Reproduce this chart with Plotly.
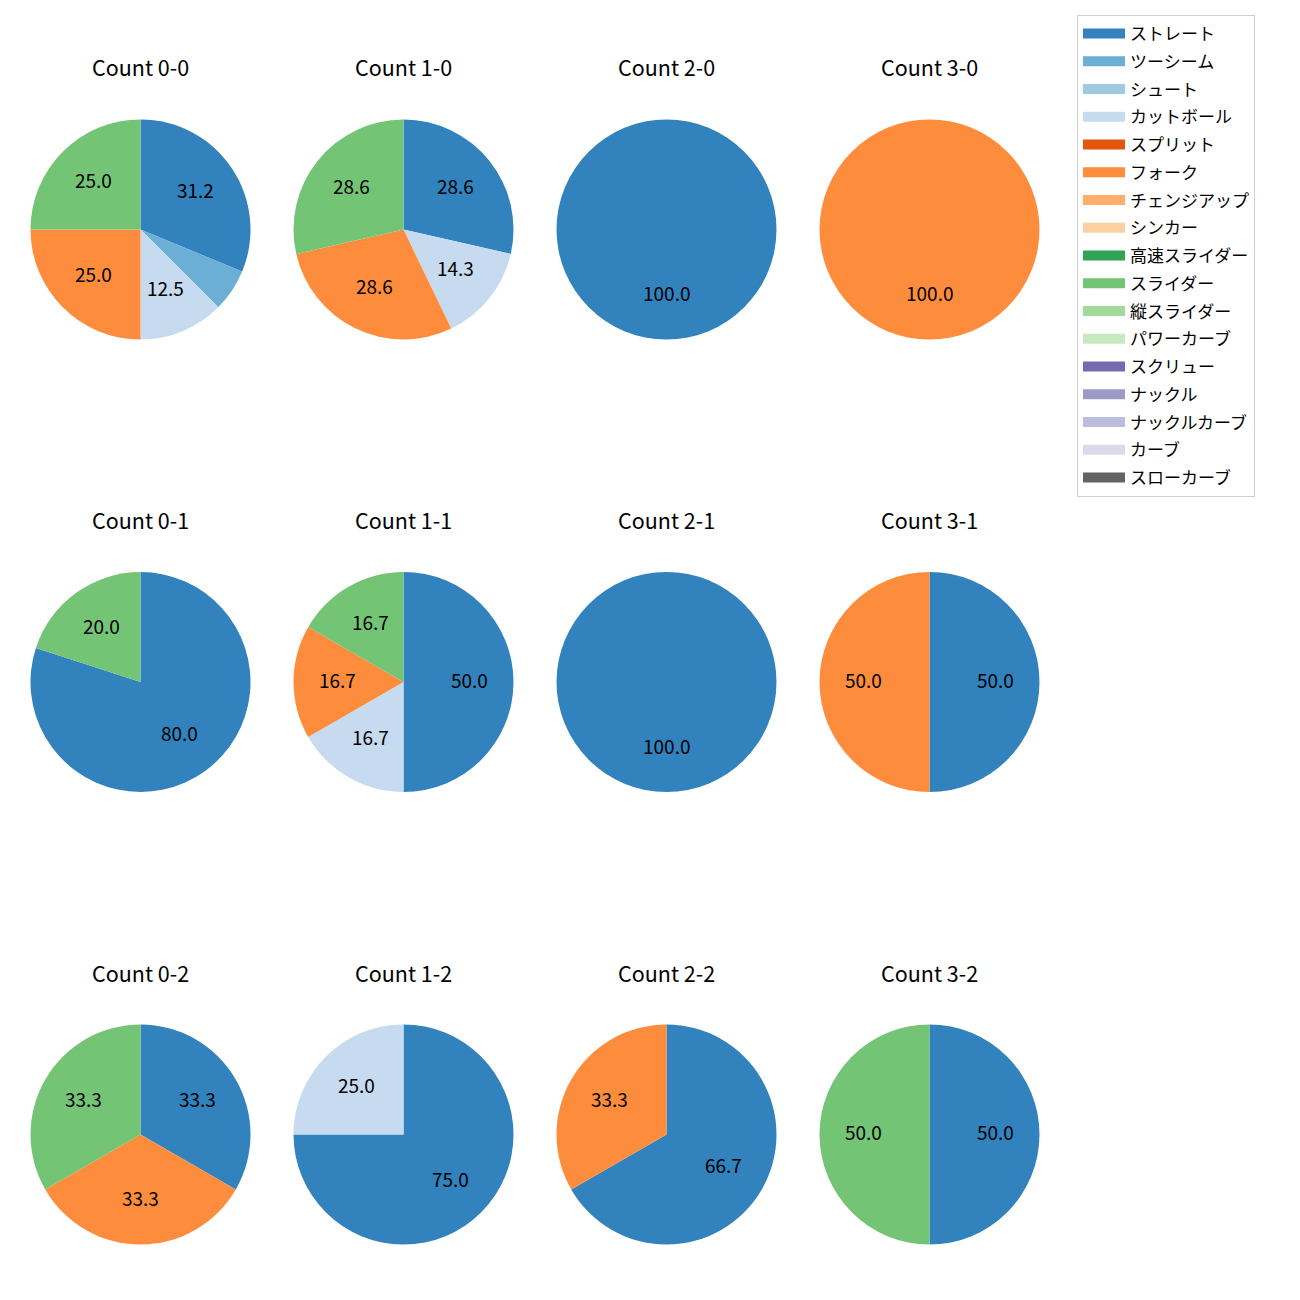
import math
import plotly.graph_objects as go

# ---- data ----
pitch_types = ["ストレート", "ツーシーム", "シュート", "カットボール", "スプリット", "フォーク",
               "チェンジアップ", "シンカー", "高速スライダー", "スライダー", "縦スライダー",
               "パワーカーブ", "スクリュー", "ナックル", "ナックルカーブ", "カーブ", "スローカーブ"]
pitch_colors = ["#3182bd", "#6baed6", "#9ecae1", "#c6dbef", "#e6550d", "#fd8d3c",
                "#fdae6b", "#fdd0a2", "#31a354", "#74c476", "#a1d99b", "#c7e9c0",
                "#756bb1", "#9e9ac8", "#bcbddc", "#dadaeb", "#636363"]

# counts in row-major order (rows = strikes, cols = balls)
count_names = ["0-0", "1-0", "2-0", "3-0",
               "0-1", "1-1", "2-1", "3-1",
               "0-2", "1-2", "2-2", "3-2"]
straight = [5, 2, 1, 0, 4, 3, 1, 1, 1, 3, 2, 1]
twoseam  = [1, 0, 0, 0, 0, 0, 0, 0, 0, 0, 0, 0]
cutball  = [2, 1, 0, 0, 0, 1, 0, 0, 0, 1, 0, 0]
fork     = [4, 2, 0, 1, 0, 1, 0, 1, 1, 0, 1, 0]
slider   = [4, 2, 0, 0, 1, 1, 0, 0, 1, 0, 0, 1]

series = {"ストレート": straight, "ツーシーム": twoseam, "カットボール": cutball,
          "フォーク": fork, "スライダー": slider}

# ---- layout constants (page pixels; browser body has an 8px margin) ----
W = H = 1300
OFF = 8
col_cx = [140.5, 403.5, 666.5, 929.5]
row_cy = [229.5, 682.0, 1134.5]
R = 110.0
FONT = "Noto Sans CJK JP"


def px(x):
    return (x - OFF) / W


def py(y):
    return 1 - (y - OFF) / H


fig = go.Figure()
annotations = []

for idx, name in enumerate(count_names):
    r_i, c_i = divmod(idx, 4)
    cx, cy = col_cx[c_i], row_cy[r_i]
    vals = [series[p][idx] if p in series else 0 for p in pitch_types]
    fig.add_trace(go.Pie(
        labels=pitch_types, values=vals, sort=False, direction="clockwise", rotation=0,
        marker=dict(colors=pitch_colors, line=dict(width=0)),
        textinfo="none", showlegend=False, hoverinfo="label+percent",
        domain=dict(x=[px(cx - R), px(cx + R)], y=[py(cy + R), py(cy - R)]),
    ))
    # title
    annotations.append(dict(x=px(cx), y=py(cy - 162.5), xref="paper", yref="paper",
                            text=f"Count {name}", showarrow=False,
                            font=dict(family=FONT, size=21.5, color="black"),
                            xanchor="center", yanchor="middle"))
    # percent labels (matplotlib style, 0.6 radius at mid angle)
    total = sum(vals)
    cum = 0.0
    for v in vals:
        if v <= 0:
            continue
        pct = 100.0 * v / total
        mid = (cum + v / 2) / total * 2 * math.pi
        cum += v
        if pct < 10:
            continue
        lx = cx + 0.6 * R * math.sin(mid)
        ly = cy - 0.6 * R * math.cos(mid) - 3
        annotations.append(dict(x=px(lx), y=py(ly), xref="paper", yref="paper",
                                text=f"{pct:.1f}", showarrow=False,
                                font=dict(family=FONT, size=19, color="black"),
                                xanchor="center", yanchor="middle"))

# legend entries
for p, c in zip(pitch_types, pitch_colors):
    fig.add_trace(go.Scatter(x=[None], y=[None], mode="lines", name=p, legendgroup=p,
                             line=dict(color=c, width=13), showlegend=True, hoverinfo="skip"))

fig.update_layout(
    width=W, height=H, margin=dict(l=0, r=0, t=0, b=0),
    paper_bgcolor="white", plot_bgcolor="white",
    xaxis=dict(visible=False), yaxis=dict(visible=False),
    annotations=annotations,
    font=dict(family=FONT, size=17, color="black"),
    legend=dict(x=px(1077), y=py(15), xanchor="left", yanchor="top",
                bordercolor="#d0d0d0", borderwidth=1, bgcolor="white",
                font=dict(family=FONT, size=17, color="black"),
                itemwidth=42, entrywidth=200, entrywidthmode="pixels",
                traceorder="grouped", tracegroupgap=2.65),
)

fig.write_html("out.html")
